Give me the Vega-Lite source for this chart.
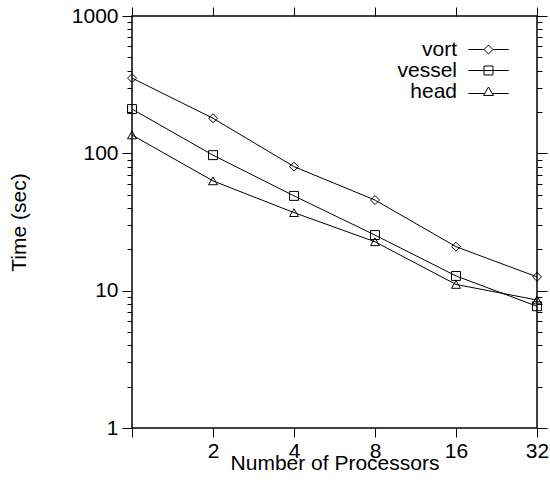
{
  "$schema": "https://vega.github.io/schema/vega-lite/v6.json",
  "width": 405,
  "height": 412,
  "autosize": {"type": "none"},
  "padding": {"left": 132, "top": 16, "right": 13, "bottom": 56},
  "config": {
    "view": {"stroke": "black", "strokeWidth": 1.5},
    "font": "Liberation Sans",
    "axis": {
      "domain": false,
      "grid": false,
      "labelColor": "black",
      "labelFontSize": 21,
      "labelFont": "Liberation Sans",
      "titleFont": "Liberation Sans",
      "titleFontSize": 21,
      "titleFontWeight": "normal",
      "titleColor": "black",
      "labelOverlap": false,
      "labelFlush": false
    }
  },
  "data": {
    "values": [
      {"series": "vort", "procs": 1, "time": 353},
      {"series": "vort", "procs": 2, "time": 180},
      {"series": "vort", "procs": 4, "time": 80},
      {"series": "vort", "procs": 8, "time": 45.7},
      {"series": "vort", "procs": 16, "time": 20.9},
      {"series": "vort", "procs": 32, "time": 12.6},
      {"series": "vessel", "procs": 1, "time": 210},
      {"series": "vessel", "procs": 2, "time": 97},
      {"series": "vessel", "procs": 4, "time": 49},
      {"series": "vessel", "procs": 8, "time": 25.4},
      {"series": "vessel", "procs": 16, "time": 12.8},
      {"series": "vessel", "procs": 32, "time": 7.7},
      {"series": "head", "procs": 1, "time": 136},
      {"series": "head", "procs": 2, "time": 63},
      {"series": "head", "procs": 4, "time": 37},
      {"series": "head", "procs": 8, "time": 22.7},
      {"series": "head", "procs": 16, "time": 11.1},
      {"series": "head", "procs": 32, "time": 8.55}
    ]
  },
  "layer": [
    {
      "mark": {"type": "line", "color": "black", "strokeWidth": 1},
      "encoding": {
        "x": {
          "field": "procs", "type": "quantitative",
          "scale": {"type": "log", "base": 2, "domain": [1, 32], "nice": false},
          "axis": {
            "orient": "bottom",
            "tickCount": 11,
            "labelExpr": "datum.value < 1.5 ? '' : format(datum.value, 'd')",
            "tickColor": "black",
            "tickSize": 9,
            "labelPadding": 3,
            "title": "Number of Processors",
            "titlePadding": -9
          }
        },
        "y": {
          "field": "time", "type": "quantitative",
          "scale": {"type": "log", "domain": [1, 1000], "nice": false},
          "axis": {
            "orient": "left",
            "tickCount": 20,
            "tickColor": "black",
            "tickSize": {"condition": {"test": "datum.value == 1 || datum.value == 10 || datum.value == 100 || datum.value == 1000", "value": 10}, "value": 5},
            "labelExpr": "datum.value == 1 || datum.value == 10 || datum.value == 100 || datum.value == 1000 ? format(datum.value, 'd') : ''",
            "labelPadding": 4,
            "title": "Time (sec)",
            "titlePadding": 42
          }
        },
        "detail": {"field": "series", "type": "nominal"}
      }
    },
    {
      "mark": {"type": "point", "filled": false, "color": "black", "size": 80, "strokeWidth": 1, "opacity": 1},
      "encoding": {
        "x": {
          "field": "procs", "type": "quantitative",
          "scale": {"type": "log", "base": 2, "domain": [1, 32], "nice": false},
          "axis": {
            "orient": "top",
            "tickCount": 11,
            "tickColor": "black",
            "tickSize": 9,
            "labels": false,
            "title": null
          }
        },
        "y": {
          "field": "time", "type": "quantitative",
          "scale": {"type": "log", "domain": [1, 1000], "nice": false},
          "axis": {
            "orient": "right",
            "tickCount": 20,
            "tickColor": "black",
            "tickSize": {"condition": {"test": "datum.value == 1 || datum.value == 10 || datum.value == 100 || datum.value == 1000", "value": 10}, "value": 5},
            "labels": false,
            "title": null
          }
        },
        "shape": {
          "field": "series", "type": "nominal",
          "scale": {"domain": ["vort", "vessel", "head"], "range": ["diamond", "square", "triangle-up"]},
          "legend": null
        }
      }
    },
    {
      "transform": [{"filter": "false"}],
      "mark": {"type": "point", "filled": false, "color": "black", "size": 80, "strokeWidth": 1, "opacity": 1},
      "encoding": {
        "x": {"field": "procs", "type": "quantitative", "scale": {"type": "log", "base": 2, "domain": [1, 32], "nice": false}, "axis": null},
        "y": {"field": "time", "type": "quantitative", "scale": {"type": "log", "domain": [1, 1000], "nice": false}, "axis": null},
        "shape": {
          "field": "series", "type": "nominal",
          "scale": {
            "domain": ["vort", "vessel", "head"],
            "range": [
              "M-4.5,0H-1M1,0H4.5M0,-1L1,0L0,1L-1,0Z",
              "M-4.5,0H4.5M-1,-1H1V1H-1Z",
              "M-4.5,0.45H-0.85M0.85,0.45H4.5M0,-1L1.1,0.9H-1.1Z"
            ]
          },
          "legend": {
            "title": null,
            "orient": "none",
            "legendX": 346,
            "legendY": 23,
            "padding": 0,
            "labelFontSize": 21,
            "labelFont": "Liberation Sans",
            "labelColor": "black",
            "labelAlign": "right",
            "labelOffset": -42,
            "symbolSize": 80,
            "symbolStrokeWidth": 1,
            "symbolStrokeColor": "black",
            "symbolFillColor": "transparent",
            "rowPadding": -1.5
          }
        }
      }
    }
  ],
  "resolve": {
    "axis": {"x": "independent", "y": "independent"},
    "scale": {"shape": "independent"},
    "legend": {"shape": "independent"}
  }
}
